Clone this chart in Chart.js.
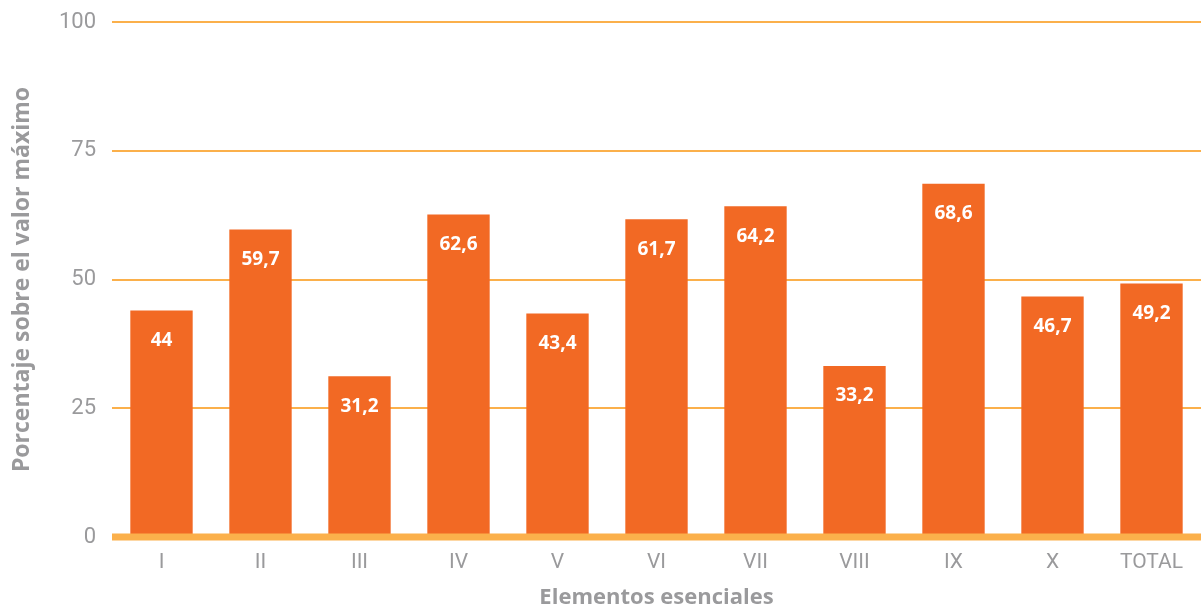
<!DOCTYPE html>
<html>
<head>
<meta charset="utf-8">
<script src="https://cdn.jsdelivr.net/npm/chart.js@4.4.0/dist/chart.umd.min.js"></script>
<style>
  html, body { margin: 0; padding: 0; background: #fff; }
  #wrap { width: 1201px; height: 611px; }
</style>
</head>
<body>
<div id="wrap"><canvas id="elemChart"></canvas></div>
<script>
const categories = ['I', 'II', 'III', 'IV', 'V', 'VI', 'VII', 'VIII', 'IX', 'X', 'TOTAL'];
const values = [44, 59.7, 31.2, 62.6, 43.4, 61.7, 64.2, 33.2, 68.6, 46.7, 49.2];
const yTicks = [0, 25, 50, 75, 100];

const barColor = '#f26924';
const gridColor = '#fbb04b';
const textGray = '#9a9a9c';

// white value labels inside the top of each bar, plus the thick zero line on top of bars
const barLabels = {
  id: 'barLabels',
  afterDatasetsDraw(chart) {
    const { ctx, scales } = chart;
    const meta = chart.getDatasetMeta(0);
    ctx.save();
    ctx.fillStyle = '#fff';
    ctx.font = 'bold 19px "Open Sans"';
    ctx.textAlign = 'center';
    ctx.textBaseline = 'middle';
    meta.data.forEach((bar, i) => {
      ctx.fillText(values[i].toLocaleString('es-ES'), bar.x, bar.y + 30);
    });
    // zero line
    const y0 = scales.y.getPixelForValue(0);
    ctx.strokeStyle = gridColor;
    ctx.lineWidth = 7;
    ctx.beginPath();
    ctx.moveTo(chart.chartArea.left, y0);
    ctx.lineTo(chart.chartArea.right, y0);
    ctx.stroke();
    ctx.restore();
  }
};

const ctx = document.getElementById('elemChart').getContext('2d');
const chart = new Chart(ctx, {
  type: 'bar',
  data: {
    labels: categories,
    datasets: [{
      data: values,
      backgroundColor: barColor,
      borderWidth: 0,
      categoryPercentage: 1,
      barPercentage: 0.63
    }]
  },
  options: {
    responsive: true,
    maintainAspectRatio: false,
    animation: false,
    layout: { padding: { top: 22, right: 0, left: 0, bottom: 0 } },
    plugins: {
      legend: { display: false },
      tooltip: { enabled: false }
    },
    scales: {
      x: {
        grid: { display: false },
        border: { display: false },
        ticks: { color: textGray, font: { family: 'Roboto', size: 21 }, padding: 5 },
        title: {
          display: true,
          text: 'Elementos esenciales',
          color: textGray,
          font: { family: 'Open Sans', size: 22, weight: 'bold' },
          padding: { top: 6, bottom: 0 }
        },
        afterFit(scale) { scale.height = 74; }
      },
      y: {
        min: 0,
        max: 100,
        afterBuildTicks(scale) { scale.ticks = yTicks.map(v => ({ value: v })); },
        grid: {
          color: c => c.tick.value === 0 ? 'rgba(0,0,0,0)' : gridColor,
          lineWidth: 2,
          drawTicks: false
        },
        border: { display: false },
        ticks: { color: textGray, font: { family: 'Roboto', size: 22 }, padding: 16 },
        title: {
          display: true,
          text: 'Porcentaje sobre el valor máximo',
          color: textGray,
          font: { family: 'Open Sans', size: 23, weight: 'bold' },
          padding: { top: 9, bottom: 0 }
        },
        afterFit(scale) {
          scale.width = 112;
          scale.paddingTop = 0;
          scale.paddingBottom = 0;
        }
      }
    }
  },
  plugins: [barLabels]
});
</script>
</body>
</html>
